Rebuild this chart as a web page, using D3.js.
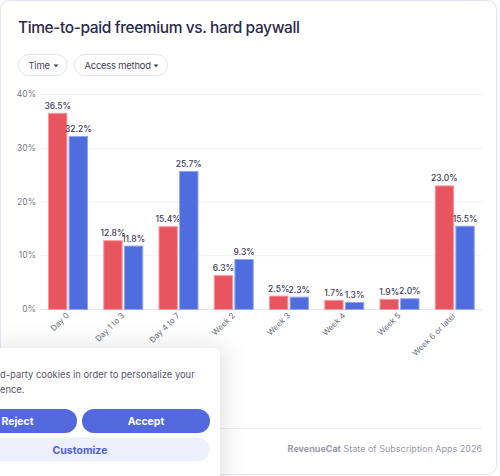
<!DOCTYPE html>
<html>
<head>
<meta charset="utf-8">
<script src="https://cdn.jsdelivr.net/npm/d3@7"></script>
<style>
  body { margin: 0; background: #fff; }
  svg { display: block; font-family: Inter, "Noto Sans", sans-serif; }
</style>
</head>
<body>
<div id="chart"></div>
<script>
// chart data
var categories = ["Day 0", "Day 1 to 3", "Day 4 to 7", "Week 2", "Week 3", "Week 4", "Week 5", "Week 6 or later"];
var hardPaywall = [36.5, 12.8, 15.4, 6.3, 2.5, 1.7, 1.9, 23.0];
var freemium = [32.2, 11.8, 25.7, 9.3, 2.3, 1.3, 2.0, 15.5];
var yTicks = [0, 10, 20, 30, 40];
var seriesNames = ["hardPaywall", "freemium"];
var colors = { hardPaywall: "#e8555f", freemium: "#4f6ddf" };
var strokes = { hardPaywall: "#f59aa0", freemium: "#93a6ee" };

var width = 500, height = 476;
var svg = d3.select("#chart").append("svg")
  .attr("width", width)
  .attr("height", height);

var defs = svg.append("defs");
var shadow = defs.append("filter").attr("id", "shadow")
  .attr("x", "-30%").attr("y", "-30%").attr("width", "160%").attr("height", "160%");
shadow.append("feDropShadow")
  .attr("dx", 4).attr("dy", 0).attr("stdDeviation", 12)
  .attr("flood-color", "#000").attr("flood-opacity", 0.12);

// card
svg.append("rect")
  .attr("x", 0.5).attr("y", 0.5)
  .attr("width", 496).attr("height", 474)
  .attr("rx", 9)
  .attr("fill", "#fff")
  .attr("stroke", "#e3e5f6");

// title
svg.append("text")
  .attr("x", 18).attr("y", 33)
  .attr("fill", "#2a2a4c")
  .style("font-size", "15.5px")
  .style("letter-spacing", "-0.4px")
  .style("font-weight", 500)
  .text("Time-to-paid freemium vs. hard paywall");

// dropdown pills
var pills = [{ label: "Time", x: 18.5, w: 48.5, tri: 53.5 }, { label: "Access method", x: 74.5, w: 93, tri: 153.5 }];
pills.forEach(function (p) {
  svg.append("rect")
    .attr("x", p.x).attr("y", 54.5)
    .attr("width", p.w).attr("height", 21)
    .attr("rx", 10.5)
    .attr("fill", "#fff")
    .attr("stroke", "#e4e4ec");
  svg.append("text")
    .attr("x", p.x + 10).attr("y", 68.5)
    .attr("fill", "#3f3f55")
    .style("font-size", "9.4px")
    .style("letter-spacing", "-0.2px")
    .text(p.label);
  svg.append("path")
    .attr("d", "M" + p.tri + ",64.5 l5,0 l-2.5,2.8 z")
    .attr("fill", "#3f3f55");
});

// scales
var x0 = d3.scaleBand().domain(categories).range([40, 482]);
var x1 = d3.scaleBand().domain(seriesNames).range([8, 48]).paddingInner(0.06);
var y = d3.scaleLinear().domain([0, 40]).range([309, 94]);

// grid
svg.append("g").selectAll("line")
  .data(yTicks)
  .enter().append("line")
  .attr("x1", 40).attr("x2", 482)
  .attr("y1", function (d) { return y(d) + 0.5; })
  .attr("y2", function (d) { return y(d) + 0.5; })
  .attr("stroke", function (d) { return d === 0 ? "#e6e6ee" : "#f1f1f5"; });

// y axis
var yAxis = svg.append("g")
  .attr("transform", "translate(36,0)")
  .call(d3.axisLeft(y).tickValues(yTicks).tickSize(0).tickPadding(0)
    .tickFormat(function (d) { return d + "%"; }));
yAxis.select(".domain").remove();
yAxis.selectAll("text")
  .attr("fill", "#7a7a88")
  .style("font-size", "8.5px")
  .style("font-family", "Inter, sans-serif");

// bars
var groups = svg.append("g").selectAll("g")
  .data(categories)
  .enter().append("g")
  .attr("transform", function (d) { return "translate(" + x0(d) + ",0)"; });

var bars = groups.selectAll("g")
  .data(function (d, i) {
    return seriesNames.map(function (s) {
      return { key: s, value: s === "hardPaywall" ? hardPaywall[i] : freemium[i] };
    });
  })
  .enter().append("g");

bars.append("rect")
  .attr("x", function (d) { return x1(d.key) + 0.5; })
  .attr("y", function (d) { return y(d.value) + 0.5; })
  .attr("width", x1.bandwidth() - 1)
  .attr("height", function (d) { return y(0) - y(d.value); })
  .attr("fill", function (d) { return colors[d.key]; })
  .attr("stroke", function (d) { return strokes[d.key]; });

bars.append("text")
  .attr("x", function (d) { return x1(d.key) + x1.bandwidth() / 2; })
  .attr("y", function (d) { return y(d.value) - 4; })
  .attr("text-anchor", "middle")
  .attr("fill", "#3a3a55")
  .style("font-size", "8.5px")
  .style("font-weight", 500)
  .text(function (d) { return d.value.toFixed(1) + "%"; });

// x labels
svg.append("g").selectAll("text")
  .data(categories)
  .enter().append("text")
  .attr("transform", function (d) {
    return "translate(" + (x0(d) + x0.bandwidth() / 2 + 2) + ",316) rotate(-45)";
  })
  .attr("text-anchor", "end")
  .attr("fill", "#6c6c7c")
  .style("font-size", "8px")
  .text(function (d) { return d; });

// footer
svg.append("line")
  .attr("x1", 215).attr("x2", 482)
  .attr("y1", 428.5).attr("y2", 428.5)
  .attr("stroke", "#ededf3");
var foot = svg.append("text")
  .attr("x", 482).attr("y", 452)
  .attr("text-anchor", "end")
  .attr("fill", "#9a9aa8")
  .style("font-size", "9px");
foot.append("tspan").style("font-weight", 700).text("RevenueCat");
foot.append("tspan").text(" State of Subscription Apps 2026");

// cookie banner
var cookie = svg.append("g");
cookie.append("rect")
  .attr("x", -20).attr("y", 348)
  .attr("width", 240).attr("height", 140)
  .attr("rx", 6)
  .attr("fill", "#fff")
  .attr("filter", "url(#shadow)");
cookie.append("text")
  .attr("x", 0).attr("y", 378)
  .attr("fill", "#55556a")
  .style("font-size", "9.4px")
  .text("d-party cookies in order to personalize your");
cookie.append("text")
  .attr("x", 0).attr("y", 393)
  .attr("fill", "#55556a")
  .style("font-size", "9.4px")
  .text("ence.");

var buttons = [
  { label: "Reject", x: -42, w: 119, y: 409, fill: "#5169dc", color: "#fff" },
  { label: "Accept", x: 82, w: 128, y: 409, fill: "#5169dc", color: "#fff" },
  { label: "Customize", x: -50, w: 260, y: 437.5, fill: "#eff0fd", color: "#4a62d8" }
];
buttons.forEach(function (b) {
  cookie.append("rect")
    .attr("x", b.x).attr("y", b.y)
    .attr("width", b.w).attr("height", 24)
    .attr("rx", 12)
    .attr("fill", b.fill);
  cookie.append("text")
    .attr("x", b.x + b.w / 2).attr("y", b.y + 16)
    .attr("text-anchor", "middle")
    .attr("fill", b.color)
    .style("font-size", "10.5px")
    .style("font-weight", 700)
    .text(b.label);
});
</script>
</body>
</html>
